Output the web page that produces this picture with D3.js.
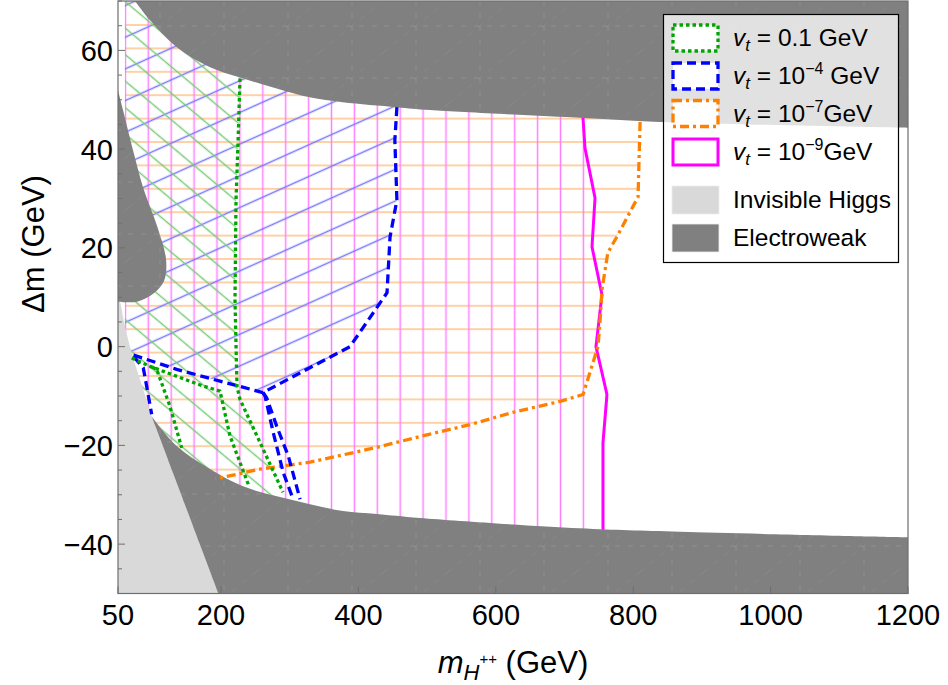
<!DOCTYPE html>
<html><head><meta charset="utf-8">
<script src="https://cdn.jsdelivr.net/npm/d3@7"></script>
<style>body{margin:0;background:#fff;} text{font-family:"Liberation Sans",Arial,sans-serif;fill:#000;}</style>
</head><body><svg id="c" width="948" height="685"></svg>
<script>
// ---------- data ----------
const xTicks=[50,200,400,600,800,1000,1200];
const yTicks=[-40,-20,0,20,40,60];
const yMinorTicks=d3.range(-50,71,5);
const xDomain=[50,1200], yDomain=[-50,70];
const hatchLeft=60;

// Electroweak exclusion (dark gray)
const ewTopEdge=[[74.7,70],[96.6,66.1],[136,60.6],[184,56.6],[228,54.5],[281,52.3],[329,50.5],[377,49.5],[456,48.5],[504,47.9],[727,46.3],[839,45.5],[1200,44.3]];
const ewLeftBlob=[[50,51.9],[57.3,47.9],[71.8,39.8],[86.4,32.3],[107.5,24.2],[120,17.6],[117,13.3],[102,10.8],[77.7,9.1],[50,9.1]];
const ewBottomEdge=[[99,-14.1],[135.9,-20.2],[183.9,-24.8],[232,-28.3],[281.4,-30.3],[329.5,-31.9],[377.5,-33.3],[427,-33.9],[489.6,-34.7],[722,-36.8],[868,-37.5],[1200,-38.6]];
// Invisible Higgs (light gray)
const invisibleHiggsEdge=[[50,10.5],[53,9.1],[60.2,4.1],[70,-1.3],[86.8,-8.7],[99,-14.1]];
const invisibleHiggsCorner=[[196,-50],[50,-50]];

// v_t = 0.1 GeV (green dotted)
const vt01Main=[[227.6,54.3],[224.7,41.2],[221.8,29.7],[220.3,9.5],[223.2,-8.1],[227.6,-10.7],[256.7,-19.4],[290.2,-29.5]];
const vt01InnerA=[[70,-2.3],[96.6,-4],[174.2,-8],[198.5,-9],[213,-18.1],[239.7,-27.9]];
const vt01InnerB=[[100,-4.2],[106.3,-4.6],[125.7,-12.1],[142.7,-20.5]];
// v_t = 1e-4 GeV (blue dashed)
const vt4Main=[[456,48.5],[453,41.8],[456,29.7],[446,22.2],[441.6,10.9],[387.7,0],[261,-9.3],[198.5,-7],[135.4,-4.6],[70,-1.6],[86.8,-4.3],[91.7,-8],[99,-13.7]];
const vt4BranchA=[[261,-9.3],[264,-10],[276,-17.4],[290.5,-25.5],[305,-30.9]];
const vt4BranchB=[[261,-9.3],[266.5,-10.4],[281,-16.1],[298,-22.2],[315,-30.9]];
// v_t = 1e-7 GeV (orange dot-dashed)
const vt7=[[810,45.5],[807,30.3],[776,22.2],[763,19],[754.5,11.5],[751.6,4.8],[748.7,0],[727,-9.7],[693.4,-11.1],[625,-13.3],[562.4,-15.8],[489.6,-18.2],[427,-20.4],[329.5,-23.4],[256.7,-24.8],[208.7,-26.3],[192,-26.8]];
// v_t = 1e-9 GeV (magenta solid)
const vt9=[[726.9,46.3],[729.8,40.2],[744.4,30.1],[740,20.2],[754.5,10.5],[745.8,0],[761.8,-9.7],[756,-19.4],[756,-37.1]];

// legend
const legendNames=["0.1","−4","−7","−9","Invisible Higgs","Electroweak"];

// ---------- layout ----------
const L=118,R=908,T=1,B=593.5;
const svg=d3.select("#c");
const x=d3.scaleLinear().domain(xDomain).range([L,R]);
const y=d3.scaleLinear().domain(yDomain).range([B,T]);
const P=p=>[x(p[0]),y(p[1])];
const straight=d3.line().x(d=>x(d[0])).y(d=>y(d[1]));
const smooth=d3.line().x(d=>x(d[0])).y(d=>y(d[1])).curve(d3.curveCatmullRom.alpha(0.5));
const poly=pts=>straight(pts)+"Z";

const defs=svg.append("defs");
defs.append("clipPath").attr("id","plotclip").append("rect").attr("x",L).attr("y",T).attr("width",R-L).attr("height",B-T);

function hatch(id,color,spacing,angle,px,py,sw){
  const th=angle*Math.PI/180;
  const v=-px*Math.sin(th)+py*Math.cos(th);
  const pat=defs.append("pattern").attr("id",id).attr("patternUnits","userSpaceOnUse")
    .attr("width",40).attr("height",spacing)
    .attr("y",v-spacing/2)
    .attr("patternTransform",`rotate(${angle})`);
  pat.append("line").attr("x1",-5).attr("x2",45).attr("y1",spacing/2).attr("y2",spacing/2)
    .attr("stroke",color).attr("stroke-width",sw);
}
hatch("hOrange","#ffc088",23.4,0,0,25,1.7);
hatch("hMagenta","#ff80ff",22.9,90,148.3,0,1.7);
hatch("hBlue","#7878ff",28.9,-24.2,160,180,1.3);
hatch("hGreen","#7acb7a",20.3,40,160,163.3,1.3);

// faint texture inside the electroweak region
const tex=defs.append("pattern").attr("id","tex").attr("patternUnits","userSpaceOnUse").attr("width",64).attr("height",52);
[[0,26,64,26],[32,0,32,52],[0,52,64,0]].forEach((s,i)=>{
  tex.append("line").attr("x1",s[0]).attr("y1",s[1]).attr("x2",s[2]).attr("y2",s[3])
    .attr("stroke","#fff").attr("stroke-opacity",i<2?0.16:0.09).attr("stroke-width",0.8).attr("stroke-dasharray","5,8");
});

const plot=svg.append("g").attr("clip-path","url(#plotclip)");

// hatched regions
const regOrange=[[hatchLeft,70],[vt7[0][0],70],...vt7,[hatchLeft,vt7[vt7.length-1][1]]];
const regMagenta=[[hatchLeft,70],[vt9[0][0],70],...vt9,[vt9[vt9.length-1][0],-50],[hatchLeft,-50]];
const regBlue=[[hatchLeft,70],[vt4Main[0][0],70],...vt4Main.slice(0,10),[hatchLeft,-1.2]];
const regGreen=[[hatchLeft,70],[vt01Main[0][0],70],...vt01Main,[vt01Main[vt01Main.length-1][0],-50],[hatchLeft,-50]];
plot.append("path").attr("d",poly(regOrange)).attr("fill","url(#hOrange)");
plot.append("path").attr("d",poly(regMagenta)).attr("fill","url(#hMagenta)");
plot.append("path").attr("d",poly(regBlue)).attr("fill","url(#hBlue)");
plot.append("path").attr("d",poly(regGreen)).attr("fill","url(#hGreen)");

// gray regions
const LG="#d9d9d9", DG="#808080";
plot.append("path").attr("d",smooth(invisibleHiggsEdge)+invisibleHiggsCorner.map(p=>"L"+P(p).join(",")).join("")+"Z").attr("fill",LG);
const ewPaths=[
  smooth(ewTopEdge)+"L"+P([1200,70]).join(",")+"L"+P([74.7,70]).join(",")+"Z",
  smooth(ewLeftBlob)+"Z",
  smooth(ewBottomEdge)+"L"+P([1200,-50]).join(",")+"L"+P([196,-50]).join(",")+"Z"
];
ewPaths.forEach(d=>{
  plot.append("path").attr("d",d).attr("fill",DG);
  plot.append("path").attr("d",d).attr("fill","url(#tex)");
});

// boundary lines
const styles={
  g:{c:"#00a600",w:3.3,d:"3.5,3"},
  b:{c:"#0000ff",w:3.3,d:"9,5"},
  o:{c:"#ff8000",w:3.3,d:"9,4,3,4"},
  m:{c:"#ff00ff",w:3,d:null}
};
function bline(pts,s){
  plot.append("path").attr("d",straight(pts)).attr("fill","none").attr("stroke",s.c)
   .attr("stroke-width",s.w).attr("stroke-dasharray",s.d).attr("stroke-linejoin","round");
}
bline(vt9,styles.m);
bline(vt7,styles.o);
bline(vt4Main,styles.b);bline(vt4BranchA,styles.b);bline(vt4BranchB,styles.b);
bline(vt01Main,styles.g);bline(vt01InnerA,styles.g);bline(vt01InnerB,styles.g);

// frame & ticks
const FC="#6e6e6e";
svg.append("rect").attr("x",L).attr("y",T).attr("width",R-L).attr("height",B-T).attr("fill","none").attr("stroke",FC).attr("stroke-width",1.2);
yMinorTicks.forEach(v=>{
  const major=yTicks.includes(v);
  svg.append("line").attr("x1",L).attr("x2",L+(major?7:4)).attr("y1",y(v)).attr("y2",y(v)).attr("stroke",FC).attr("stroke-width",1);
});
xTicks.forEach(v=>{
  svg.append("line").attr("x1",x(v)).attr("x2",x(v)).attr("y1",B).attr("y2",B-7).attr("stroke",FC).attr("stroke-width",1);
});
const fmt=v=>v<0?"−"+Math.abs(v):String(v);
svg.append("g").selectAll("text").data(yTicks).join("text")
  .attr("x",L-5).attr("y",d=>y(d)).attr("dy","0.36em").attr("text-anchor","end").attr("font-size",29).text(fmt);
svg.append("g").selectAll("text").data(xTicks).join("text")
  .attr("x",d=>x(d)).attr("y",625).attr("text-anchor","middle").attr("font-size",29).text(fmt);

// axis labels
const xl=svg.append("text").attr("x",(L+R)/2).attr("y",673).attr("text-anchor","middle").attr("font-size",31);
xl.append("tspan").attr("font-style","italic").text("m");
xl.append("tspan").attr("font-style","italic").attr("font-size",22).attr("dy",7).text("H");
xl.append("tspan").attr("font-size",15).attr("dy",-16).text("++");
xl.append("tspan").attr("dy",9).text(" (GeV)");
svg.append("text").attr("transform","translate(44,244) rotate(-90)").attr("text-anchor","middle").attr("font-size",31).text("Δm (GeV)");

// legend
const lg=svg.append("g");
lg.append("rect").attr("x",663.5).attr("y",14.5).attr("width",235).attr("height",248).attr("fill","#fff").attr("fill-opacity",0.76).attr("stroke","#000").attr("stroke-width",1.2);
const rowTops=[24,62,99.5,138,186,224];
const swStyles=[styles.g,styles.b,styles.o,styles.m];
legendNames.forEach((name,i)=>{
  const ty=rowTops[i];
  if(i<4){
    const s=swStyles[i];
    lg.append("rect").attr("x",673).attr("y",ty+1).attr("width",45).attr("height",26).attr("fill","#fff")
      .attr("stroke",s.c).attr("stroke-width",s.w).attr("stroke-dasharray",s.d);
    const t=lg.append("text").attr("x",733).attr("y",ty+22).attr("font-size",24.5);
    t.append("tspan").attr("font-style","italic").text("v");
    t.append("tspan").attr("font-style","italic").attr("font-size",17).attr("dy",5).text("t");
    if(i===0){
      t.append("tspan").attr("dy",-5).text(" = 0.1 GeV");
    } else {
      t.append("tspan").attr("dy",-5).text(" = 10");
      t.append("tspan").attr("font-size",16).attr("dy",-10).text(name);
      t.append("tspan").attr("dy",10).text(i===1?" GeV":"GeV");
    }
  } else {
    lg.append("rect").attr("x",672).attr("y",ty).attr("width",47).attr("height",28).attr("fill",i===4?LG:DG).attr("stroke","#eee").attr("stroke-width",0.8);
    lg.append("text").attr("x",733).attr("y",ty+22).attr("font-size",24.5).text(name);
  }
});
</script></body></html>
